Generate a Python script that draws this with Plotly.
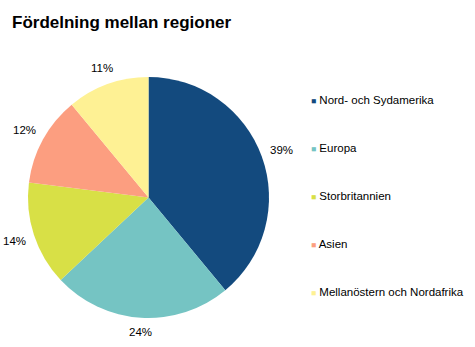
import math
import plotly.graph_objects as go

regions = ["Nord- och Sydamerika", "Europa", "Storbritannien", "Asien", "Mellanöstern och Nordafrika"]
shares = [39, 24, 14, 12, 11]
colors = ["#134a7e", "#75c4c3", "#d8e046", "#fc9e80", "#fef194"]

W, H = 475, 347
cx, cy, r = 148.5, 197.5, 120.5
gap, half_w, half_h = 8, 11, 6

fig = go.Figure()
fig.add_trace(go.Pie(
    labels=regions, values=shares, sort=False, direction="clockwise", rotation=0,
    marker=dict(colors=colors, line=dict(width=0)),
    textinfo="none", showlegend=False, hoverinfo="label+percent",
    domain=dict(x=[(cx - r) / W, (cx + r) / W], y=[(H - cy - r) / H, (H - cy + r) / H]),
))

# percentage labels just outside each slice (Excel "outside end" style)
total = sum(shares)
cum = 0
for v in shares:
    mid = (cum + v / 2) / total * 2 * math.pi
    cum += v
    dx, dy = math.sin(mid), -math.cos(mid)
    dist = r + gap + abs(dx) * half_w + abs(dy) * half_h
    px, py = cx + dist * dx, cy + dist * dy
    fig.add_annotation(x=px / W, y=1 - py / H, xref="paper", yref="paper",
                       text=f"{v}%", showarrow=False, xanchor="center", yanchor="middle",
                       font=dict(family="Liberation Sans, Arial", size=11.5, color="#000"))

# legend entries: small coloured square drawn right next to the text (Excel style)
for name, c in zip(regions, colors):
    fig.add_trace(go.Scatter(
        x=[None], y=[None], mode="markers",
        name=f'<span style="font-size:8.5px;color:{c}">■</span> {name}',
        legendgroup=name,
        marker=dict(symbol="square", size=6, color="rgba(0,0,0,0)"),
    ))

fig.update_layout(
    width=W, height=H, margin=dict(l=0, r=0, t=0, b=0),
    paper_bgcolor="white", plot_bgcolor="white",
    font=dict(family="Liberation Sans, Arial", size=11.5, color="#000"),
    title=dict(text="<b>Fördelning mellan regioner</b>", x=12 / W, xanchor="left",
               y=1 - 22 / H, yanchor="middle",
               font=dict(family="Liberation Sans, Arial", size=17, color="#000")),
    xaxis=dict(visible=False), yaxis=dict(visible=False),
    legend=dict(x=271 / W, xanchor="left", y=1 - 85 / H, yanchor="top",
                tracegroupgap=29, itemwidth=30, font=dict(size=11.5),
                bgcolor="rgba(0,0,0,0)"),
)
fig.write_html("out.html")
